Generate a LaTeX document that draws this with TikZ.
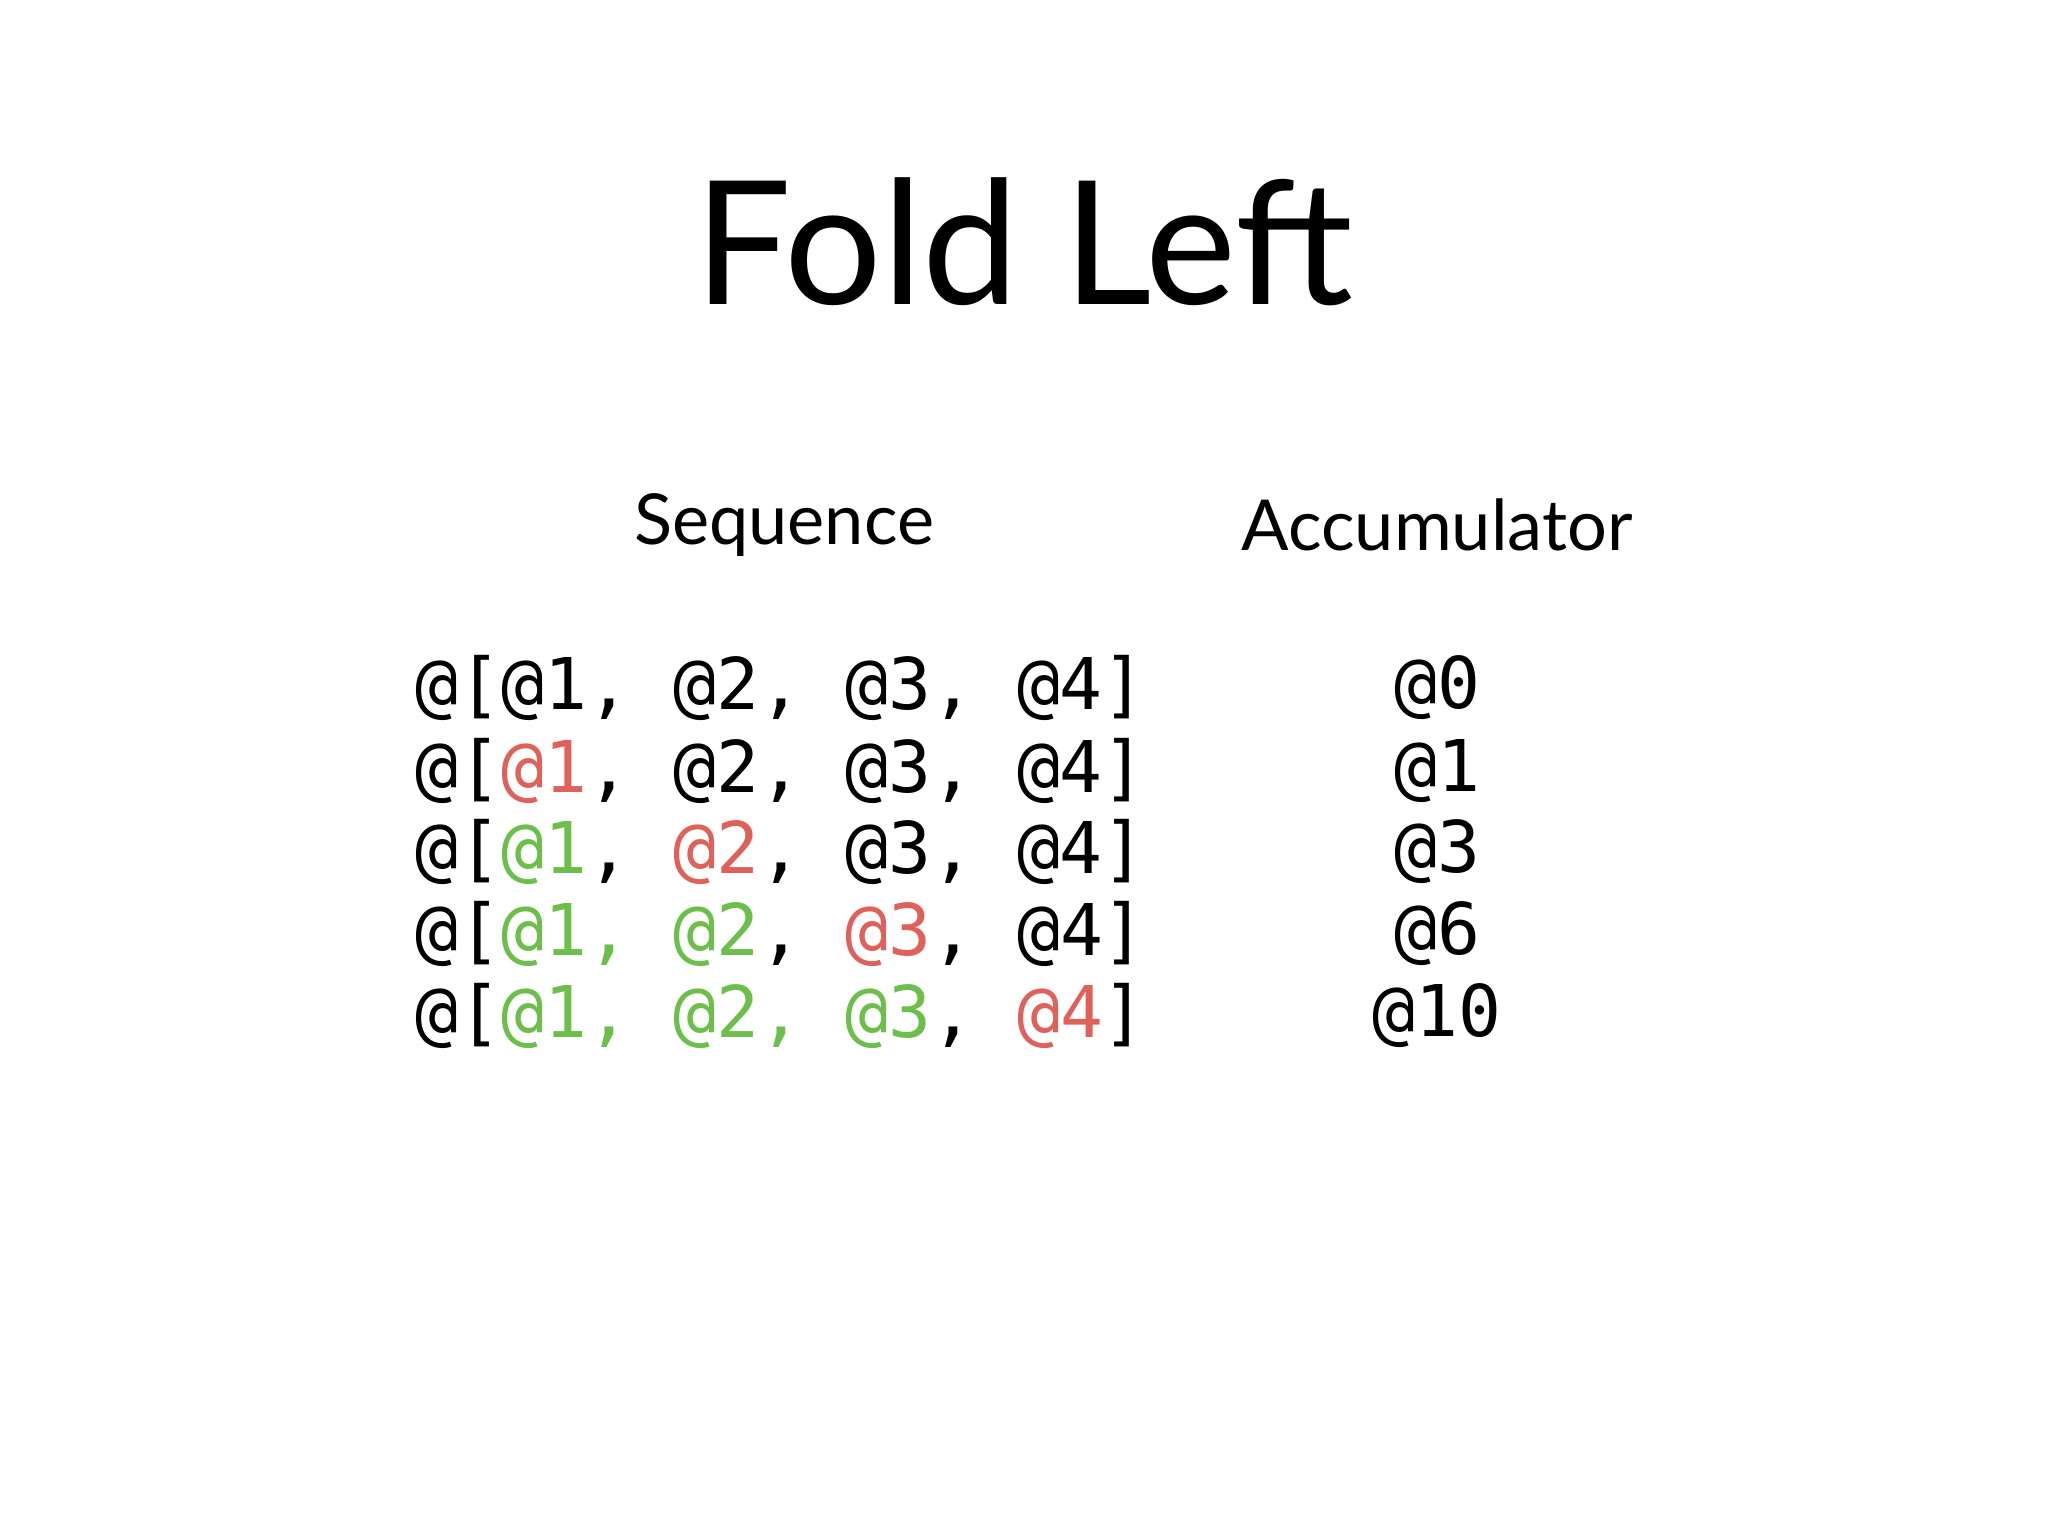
\documentclass[tikz,border=0pt]{standalone}
\usepackage{fontspec}
\setmainfont{Lato}
\newfontfamily\monof{DejaVu Sans Mono}
\definecolor{rd}{HTML}{E0605A}
\definecolor{gn}{HTML}{6DBF4B}
\begin{document}
\begin{tikzpicture}[x=1cm,y=-1cm,
  mono/.style={font=\monof\fontsize{20.3pt}{24pt}\selectfont,inner sep=0pt,anchor=west},
  acc/.style={font=\monof\fontsize{20.3pt}{24pt}\selectfont,inner sep=0pt},
  head/.style={font=\fontsize{20pt}{24pt}\selectfont}]
\useasboundingbox[fill=white] (0,0) rectangle (20.48,15.36);
\node[font=\fontsize{49pt}{58pt}\selectfont] (title) at (10.24,2.42) {Fold Left};
\node[head] (seq) at (7.84,5.25) {Sequence};
\node[head] (acch) at (14.37,5.25) {Accumulator};
\node[mono] (r1) at (4.15,6.88) {@[@1, @2, @3, @4]};
\node[mono] (r2) at (4.15,7.71) {@[\textcolor{rd}{@1}, @2, @3, @4]};
\node[mono] (r3) at (4.15,8.52) {@[\textcolor{gn}{@1}, \textcolor{rd}{@2}, @3, @4]};
\node[mono] (r4) at (4.15,9.34) {@[\textcolor{gn}{@1, @2}, \textcolor{rd}{@3}, @4]};
\node[mono] (r5) at (4.15,10.16) {@[\textcolor{gn}{@1, @2, @3}, \textcolor{rd}{@4}]};
\node[acc] (a1) at (14.37,6.88) {@0};
\node[acc] (a2) at (14.37,7.71) {@1};
\node[acc] (a3) at (14.37,8.52) {@3};
\node[acc] (a4) at (14.37,9.34) {@6};
\node[acc] (a5) at (14.37,10.16) {@10};
\end{tikzpicture}
\end{document}
